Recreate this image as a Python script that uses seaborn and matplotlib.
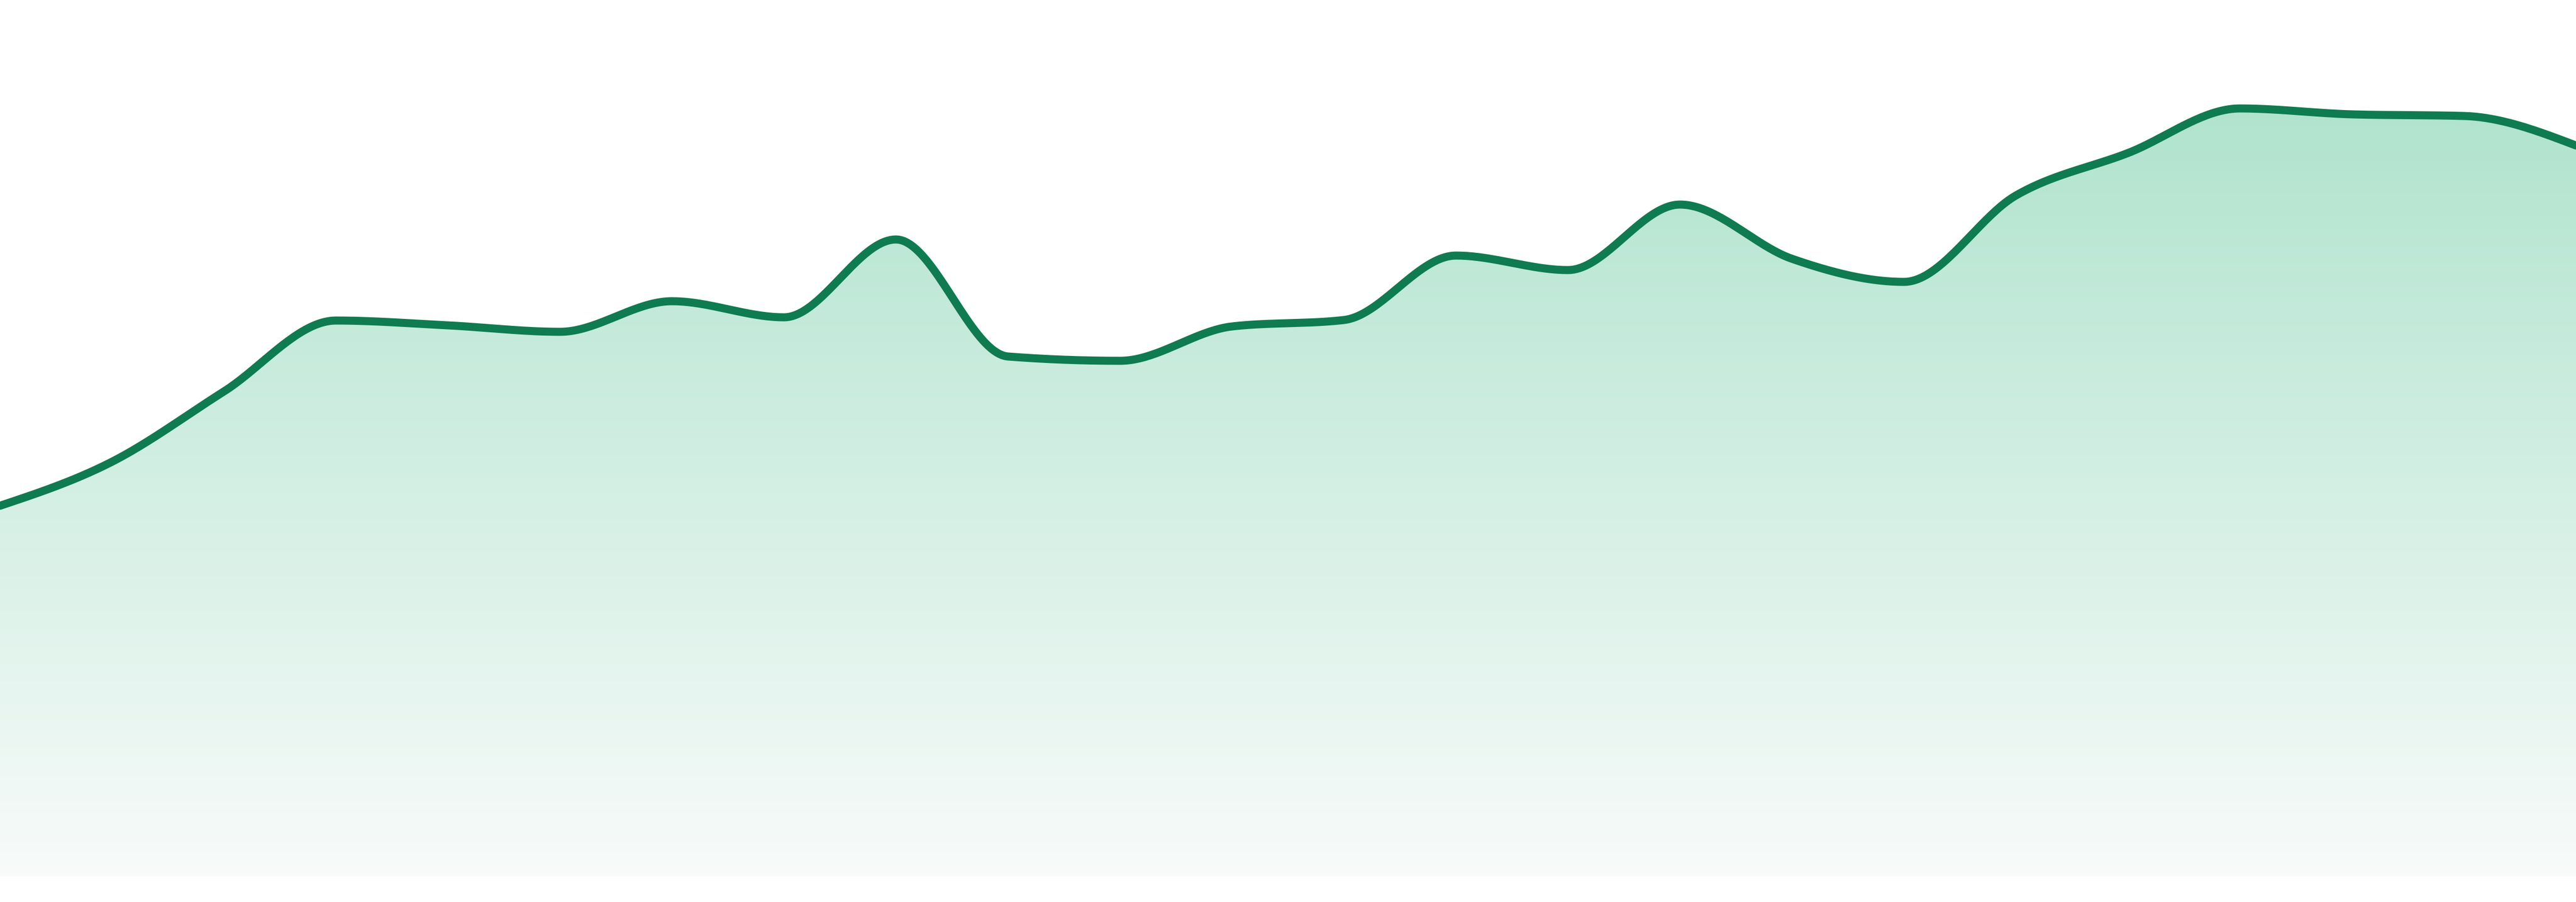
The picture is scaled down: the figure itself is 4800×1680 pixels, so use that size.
import numpy as np
import pandas as pd
import matplotlib.pyplot as plt
import seaborn as sns
from matplotlib.patches import Polygon
from matplotlib.colors import LinearSegmentedColormap

# values (24 evenly spaced points)
points = list(range(24))
values = [69.0, 77.2, 90.3, 103.5, 102.6, 101.4, 107.1, 104.1, 118.6, 96.8,
          96.0, 102.4, 103.6, 115.6, 112.9, 125.1, 115.0, 110.7, 126.8, 134.7,
          143.0, 141.9, 141.6, 136.1]

line_color = '#0f7b51'
fill_top = '#a6e0c8'
fill_bottom = '#f8fbfa'


def monotone_curve(x, y, steps=40):
    # monotone cubic (same shape as d3 curveMonotoneX)
    x = np.asarray(x, float)
    y = np.asarray(y, float)
    h = np.diff(x)
    s = np.diff(y) / h
    t = np.zeros_like(y)
    for i in range(1, len(y) - 1):
        p = (s[i - 1] * h[i] + s[i] * h[i - 1]) / (h[i - 1] + h[i])
        t[i] = (np.sign(s[i - 1]) + np.sign(s[i])) * min(abs(s[i - 1]), abs(s[i]), 0.5 * abs(p))
    t[0] = (3 * s[0] - t[1]) / 2
    t[-1] = (3 * s[-1] - t[-2]) / 2
    xs, ys = [], []
    for i in range(len(y) - 1):
        u = np.linspace(0, 1, steps, endpoint=False)
        h00 = 2 * u**3 - 3 * u**2 + 1
        h10 = u**3 - 2 * u**2 + u
        h01 = -2 * u**3 + 3 * u**2
        h11 = u**3 - u**2
        xs.append(x[i] + u * h[i])
        ys.append(h00 * y[i] + h10 * h[i] * t[i] + h01 * y[i + 1] + h11 * h[i] * t[i + 1])
    xs.append([x[-1]])
    ys.append([y[-1]])
    return np.concatenate(xs), np.concatenate(ys)


sx, sy = monotone_curve(points, values)
curve = pd.DataFrame({'x': sx, 'y': sy})

sns.set_theme(style='white')
fig = plt.figure(figsize=(16, 5.6), dpi=300)
ax = fig.add_axes([0, 48 / 1680, 1, 1632 / 1680])

# vertical gradient under the line
cmap = LinearSegmentedColormap.from_list('fade', [fill_top, fill_bottom])
grad = np.linspace(0, 1, 512).reshape(-1, 1)
img = ax.imshow(grad, cmap=cmap, extent=[0, 23, 0, 163.2], aspect='auto',
                origin='upper', zorder=1)
verts = np.column_stack([np.r_[sx, sx[-1], sx[0]], np.r_[sy, 0, 0]])
clip = Polygon(verts, closed=True, transform=ax.transData, facecolor='none', edgecolor='none')
ax.add_patch(clip)
img.set_clip_path(clip)

sns.lineplot(data=curve, x='x', y='y', color=line_color, linewidth=3.6,
             sort=False, ax=ax, zorder=3)
ax.set_xlim(0, 23)
ax.set_ylim(0, 163.2)
ax.axis('off')

fig.savefig('out.png', dpi=300, facecolor='white')
